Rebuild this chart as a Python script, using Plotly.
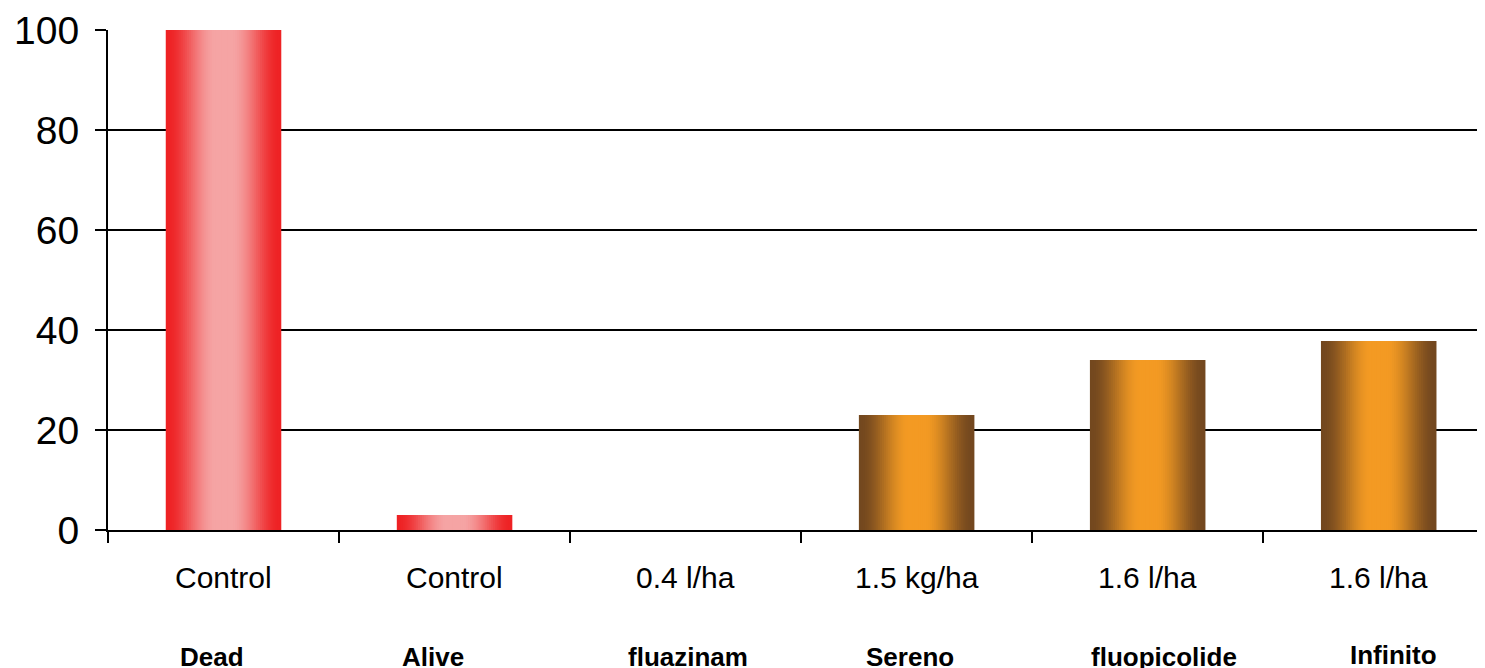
import plotly.graph_objects as go

# ---- data ----
groups = ["Dead", "Alive", "fluazinam", "Sereno", "fluopicolide", "Infinito"]
doses = ["Control", "Control", "0.4 l/ha", "1.5 kg/ha", "1.6 l/ha", "1.6 l/ha"]
values = [100, 3, 0, 23, 34, 37.8]
kinds = ["control", "control", "treat", "treat", "treat", "treat"]

# ---- styles ----
edge_col = {"control": (238, 34, 36), "treat": (115, 72, 31)}
mid_col = {"control": (245, 164, 164), "treat": (243, 154, 35)}
name_xshift = [-12, -22, 2, -7, 16, 15]
name_yshift = [0, 0, 0, 0, 0, 2]
FONT = "Liberation Sans, Arial, sans-serif"

def mix(a, b, t):
    return "rgb(%d,%d,%d)" % tuple(round(a[i] + (b[i] - a[i]) * t) for i in range(3))

def prof(d):
    # d: 1 at edge, 0 at centre -> 1 = edge colour
    t = (d - 0.15) / 0.85
    t = max(0.0, min(1.0, t))
    return t * t * (3 - 2 * t)

fig = go.Figure()
N = 30
full_w = 0.5
for i in range(N):
    d = 1 - i / N
    w = full_w * d
    cols = [mix(mid_col[k], edge_col[k], prof(d)) for k in kinds]
    fig.add_trace(go.Bar(
        x=groups, y=values, width=w,
        marker=dict(color=cols, line=dict(width=0)),
        showlegend=False, hoverinfo="skip",
    ))

for g, d in zip(groups, doses):
    fig.add_annotation(x=g, y=-0.094, xref="x", yref="paper", text=d,
                       showarrow=False, yanchor="middle",
                       font=dict(family=FONT, size=30, color="black"))
for g, xs, ys in zip(groups, name_xshift, name_yshift):
    fig.add_annotation(x=g, y=-0.254, xref="x", yref="paper", text="<b>%s</b>" % g,
                       showarrow=False, yanchor="middle", xshift=xs, yshift=ys,
                       font=dict(family=FONT, size=26, color="black"))

fig.update_layout(
    width=1477, height=660,
    margin=dict(l=100, r=0, t=22, b=138),
    barmode="overlay",
    plot_bgcolor="white", paper_bgcolor="white",
    font=dict(family=FONT, color="black"),
)
fig.update_xaxes(
    type="category", range=[-0.5, 5.46],
    showticklabels=False, tickson="boundaries",
    ticks="outside", ticklen=11, tickwidth=2, tickcolor="black",
    showline=True, linecolor="black", linewidth=2,
    showgrid=False, zeroline=False,
)
fig.update_yaxes(
    range=[0, 100], tickvals=[0, 20, 40, 60, 80, 100],
    ticks="outside", ticklen=11, tickwidth=2, tickcolor="black",
    showline=True, linecolor="black", linewidth=2,
    showgrid=True, gridcolor="black", gridwidth=1.5,
    zeroline=False, ticklabelstandoff=8,
    tickfont=dict(family=FONT, size=39, color="black"),
)

fig.write_html("out.html")
